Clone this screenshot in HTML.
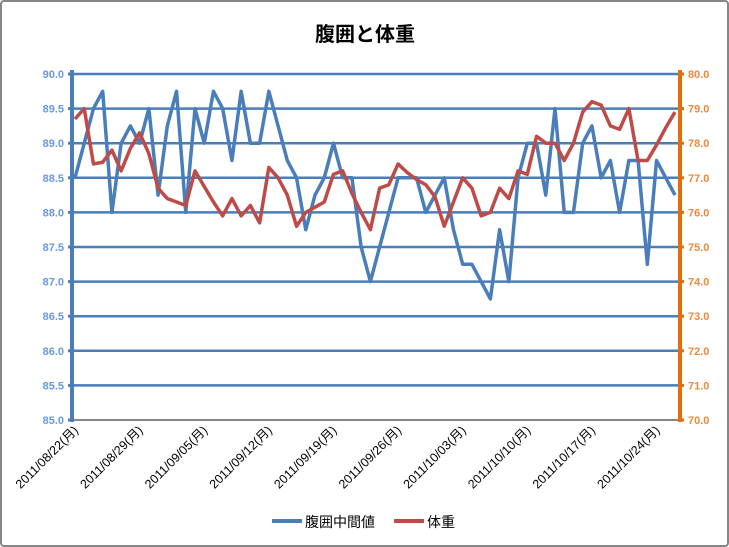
<!DOCTYPE html>
<html><head><meta charset="utf-8"><style>
body{margin:0;background:#fff;}
svg{display:block;font-family:"Liberation Sans","Noto Sans CJK JP",sans-serif;}
</style></head><body>
<svg width="729" height="547" viewBox="0 0 729 547" id="c">
<rect x="1" y="1" width="727" height="545" rx="3" fill="#fff" stroke="#868686" stroke-width="2"/>
<text x="365" y="41" text-anchor="middle" font-size="20" font-weight="bold" fill="#000" font-family="'Liberation Sans','Noto Sans CJK JP',sans-serif">腹囲と体重</text>
<g id="grid"></g>
<g id="ylab"></g>
<g id="y2lab"></g>
<g id="xlab"></g>
<g id="series"></g>
<g>
<line x1="272" y1="521" x2="302" y2="521" stroke="#4a7ebb" stroke-width="4"/>
<text x="305" y="527" font-size="14" fill="#000">腹囲中間値</text>
<line x1="394" y1="521" x2="424" y2="521" stroke="#be4b48" stroke-width="4"/>
<text x="427" y="527" font-size="14" fill="#000">体重</text>
</g>
</svg>
<script>
const waist = [88.5,89.0,89.5,89.75,88.0,89.0,89.25,89.0,89.5,88.25,89.25,89.75,88.0,89.5,89.0,89.75,89.5,88.75,89.75,89.0,89.0,89.75,89.25,88.75,88.5,87.75,88.25,88.5,89.0,88.5,88.5,87.5,87.0,87.5,88.0,88.5,88.5,88.5,88.0,88.25,88.5,87.75,87.25,87.25,87.0,86.75,87.75,87.0,88.5,89.0,89.0,88.25,89.5,88.0,88.0,89.0,89.25,88.5,88.75,88.0,88.75,88.75,87.25,88.75,88.5,88.25];
const weight = [78.7,79.0,77.4,77.45,77.8,77.2,77.85,78.3,77.7,76.7,76.4,76.3,76.2,77.2,76.75,76.3,75.9,76.4,75.9,76.2,75.7,77.3,77.0,76.5,75.6,76.0,76.15,76.3,77.1,77.2,76.55,76.0,75.5,76.7,76.8,77.4,77.15,76.95,76.8,76.45,75.6,76.3,77.0,76.7,75.9,76.0,76.7,76.4,77.2,77.1,78.2,78.0,78.0,77.5,78.0,78.9,79.2,79.1,78.5,78.4,79.0,77.5,77.5,77.95,78.45,78.9];
const xTickLabels = ["2011/08/22(月)","2011/08/29(月)","2011/09/05(月)","2011/09/12(月)","2011/09/19(月)","2011/09/26(月)","2011/10/03(月)","2011/10/10(月)","2011/10/17(月)","2011/10/24(月)"];
const yTicks = [85.0,85.5,86.0,86.5,87.0,87.5,88.0,88.5,89.0,89.5,90.0];
const y2Ticks = [70.0,71.0,72.0,73.0,74.0,75.0,76.0,77.0,78.0,79.0,80.0];
const tickStepDays = 7;

const NS="http://www.w3.org/2000/svg";
const X0=75, X1=675, PL=72, PR=680, YT=74, YB=420;
const xs = i => X0 + (X1-X0)*i/(waist.length-1);
const y1 = v => YB - (v-85)/(90-85)*(YB-YT);
const y2 = v => YB - (v-70)/(80-70)*(YB-YT);
function mk(tag, attrs, parent){const e=document.createElementNS(NS,tag);for(const k in attrs)e.setAttribute(k,attrs[k]);parent.appendChild(e);return e;}
const grid=document.getElementById('grid');
yTicks.forEach((v,i)=>{
  if(v===85) return;
  const l=mk('line',{x1:PL,x2:PR,y1:y1(v),y2:y1(v),stroke:'#4a7ebb','stroke-width':2.5},grid);
  
  
});
const xaxis=mk('line',{x1:PL,x2:PR,y1:YB,y2:YB,stroke:'#868686','stroke-width':2},grid);


const la=mk('line',{x1:PL,x2:PL,y1:YT-4,y2:YB+2,stroke:'#4a7ebb','stroke-width':4},grid);


const ra=mk('line',{x1:PR,x2:PR,y1:YT-4,y2:YB+2,stroke:'#e46c0a','stroke-width':4},grid);


const yl=document.getElementById('ylab');
yTicks.forEach(v=>{
  mk('line',{x1:PL-4,x2:PL,y1:y1(v),y2:y1(v),stroke:'#4a7ebb','stroke-width':3},yl);
  const t=mk('text',{x:PL-8,y:y1(v)+4,'text-anchor':'end','font-size':11,'font-weight':'bold',fill:'#6a98dc'},yl);
  t.textContent=v.toFixed(1);
  
  
});
const y2l=document.getElementById('y2lab');
y2Ticks.forEach(v=>{
  mk('line',{x1:PR,x2:PR+4,y1:y2(v),y2:y2(v),stroke:'#e46c0a','stroke-width':3},y2l);
  const t=mk('text',{x:PR+8,y:y2(v)+4,'text-anchor':'start','font-size':11,'font-weight':'bold',fill:'#f0883a'},y2l);
  t.textContent=v.toFixed(1);
  
  
});
const xl=document.getElementById('xlab');
xTickLabels.forEach((s,i)=>{
  const x=xs(i*tickStepDays)+4, y=431;
  const t=mk('text',{x:x,y:y,'text-anchor':'end','font-size':12.5,fill:'#000',transform:`rotate(-45 ${x} ${y})`},xl);
  t.textContent=s;
  
  
});
const sg=document.getElementById('series');
const p1=mk('polyline',{points:waist.map((v,i)=>xs(i)+','+y1(v)).join(' '),fill:'none',stroke:'#4a7ebb','stroke-width':3.5,'stroke-linejoin':'round'},sg);


const p2=mk('polyline',{points:weight.map((v,i)=>xs(i)+','+y2(v)).join(' '),fill:'none',stroke:'#be4b48','stroke-width':3.5,'stroke-linejoin':'round'},sg);


</script>
</body></html>
